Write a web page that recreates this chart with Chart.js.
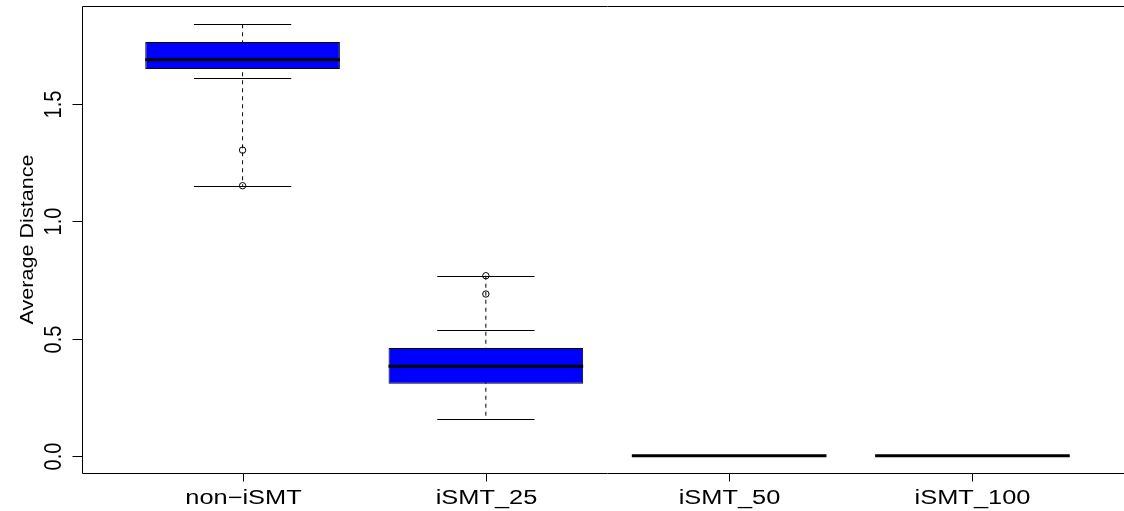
<!DOCTYPE html>
<html>
<head>
<meta charset="utf-8">
<script src="https://cdn.jsdelivr.net/npm/chart.js@4"></script>
<style>
  html, body { margin: 0; padding: 0; background: #fff; overflow: hidden; }
  #wrap { width: 1140px; height: 511px; position: relative; }
</style>
</head>
<body>
<div id="wrap"><canvas id="chartBox" width="1140" height="511"></canvas></div>
<script>
// values
const categories = ['non\u2212iSMT', 'iSMT_25', 'iSMT_50', 'iSMT_100'];
const q1 = [1.650, 0.307, 0, 0];
const q3 = [1.765, 0.460, 0, 0];
const medians = [1.690, 0.382, 0, 0];
const whiskerLow = [1.152, 0.155, 0, 0];
const whiskerHigh = [1.841, 0.768, 0, 0];
const staples = [[1.841, 1.612, 1.152], [0.768, 0.537, 0.155], [], []];
const outliers = [[1.304, 1.152], [0.768, 0.690], [], []];
const yTicks = [0, 0.5, 1.0, 1.5];
const yTickLabels = ['0.0', '0.5', '1.0', '1.5'];
const yTitle = 'Average Distance';

const FONT = '"Liberation Sans", Arial, Helvetica, sans-serif';

// boxes as floating bars
const boxData = categories.map((c, i) => ({ x: i, y: [q1[i], q3[i]] }));
const outlierData = [];
outliers.forEach((vals, i) => vals.forEach(v => outlierData.push({ x: i, y: v })));

// whiskers, staples, medians, frame and text drawn through the scales
const boxplotParts = {
  id: 'boxplotParts',
  beforeDatasetsDraw(chart) {
    const ctx = chart.ctx;
    const xs = chart.scales.x, ys = chart.scales.y;
    const bars = chart.getDatasetMeta(0).data;
    ctx.save();
    ctx.strokeStyle = '#000';
    ctx.lineWidth = 1;
    categories.forEach((c, i) => {
      const x = xs.getPixelForValue(i);
      const half = bars[i].width / 2;
      if (whiskerHigh[i] > whiskerLow[i]) {
        ctx.setLineDash([4, 4]);
        ctx.beginPath();
        ctx.moveTo(x, ys.getPixelForValue(whiskerHigh[i]));
        ctx.lineTo(x, ys.getPixelForValue(whiskerLow[i]));
        ctx.stroke();
      }
      ctx.setLineDash([]);
      staples[i].forEach(v => {
        const y = Math.round(ys.getPixelForValue(v)) + 0.5;
        ctx.beginPath();
        ctx.moveTo(x - half / 2, y);
        ctx.lineTo(x + half / 2, y);
        ctx.stroke();
      });
    });
    ctx.restore();
  },
  afterDatasetsDraw(chart) {
    const ctx = chart.ctx;
    const xs = chart.scales.x, ys = chart.scales.y;
    const bars = chart.getDatasetMeta(0).data;
    const area = chart.chartArea;
    ctx.save();
    // medians
    ctx.strokeStyle = '#000';
    ctx.lineWidth = 3;
    ctx.lineCap = 'butt';
    categories.forEach((c, i) => {
      const x = xs.getPixelForValue(i);
      const half = bars[i].width / 2;
      const y = ys.getPixelForValue(medians[i]);
      ctx.beginPath();
      ctx.moveTo(x - half, y);
      ctx.lineTo(x + half, y);
      ctx.stroke();
    });

    // frame (right side falls outside the window)
    ctx.lineWidth = 1;
    const l = Math.round(area.left) + 0.5, t = Math.round(area.top) + 0.5;
    const r = Math.round(area.right) - 0.5, b = Math.round(area.bottom) + 0.5;
    ctx.beginPath();
    ctx.moveTo(r, t);
    ctx.lineTo(l, t);
    ctx.lineTo(l, b);
    ctx.lineTo(r, b);
    ctx.stroke();

    // x ticks and labels
    ctx.fillStyle = '#000';
    ctx.font = '20px ' + FONT;
    ctx.textAlign = 'center';
    ctx.textBaseline = 'alphabetic';
    categories.forEach((c, i) => {
      const x = Math.round(xs.getPixelForValue(i)) + 0.5;
      ctx.beginPath();
      ctx.moveTo(x, b);
      ctx.lineTo(x, b + 8);
      ctx.stroke();
      ctx.save();
      ctx.translate(x, 504);
      ctx.scale(1.27, 1);
      ctx.fillText(c, 0, 0);
      ctx.restore();
    });

    // y ticks and rotated labels
    yTicks.forEach((v, i) => {
      const y = Math.round(ys.getPixelForValue(v)) + 0.5;
      ctx.beginPath();
      ctx.moveTo(l - 10, y);
      ctx.lineTo(l, y);
      ctx.stroke();
      ctx.save();
      ctx.translate(61, y);
      ctx.rotate(-Math.PI / 2);
      ctx.scale(1, 1.17);
      ctx.fillText(yTickLabels[i], 0, 0);
      ctx.restore();
    });

    // y title
    ctx.save();
    ctx.font = '18px ' + FONT;
    ctx.translate(33, (area.top + area.bottom) / 2);
    ctx.rotate(-Math.PI / 2);
    ctx.scale(1.2, 1);
    ctx.fillText(yTitle, 0, 0);
    ctx.restore();

    ctx.restore();
  }
};

new Chart(document.getElementById('chartBox'), {
  type: 'bar',
  data: {
    datasets: [
      {
        type: 'bar',
        data: boxData,
        backgroundColor: '#0000ff',
        borderColor: '#000',
        borderWidth: 1,
        borderSkipped: false,
        grouped: false,
        barPercentage: 0.8,
        categoryPercentage: 1,
        order: 2
      },
      {
        type: 'scatter',
        data: outlierData,
        pointStyle: 'circle',
        pointRadius: 3.2,
        pointBackgroundColor: 'rgba(0,0,0,0)',
        pointBorderColor: '#000',
        pointBorderWidth: 1,
        order: 1
      }
    ]
  },
  options: {
    responsive: false,
    animation: false,
    layout: { padding: { top: 6, right: 7, left: 0, bottom: 0 } },
    plugins: { legend: { display: false }, tooltip: { enabled: false } },
    scales: {
      x: {
        type: 'linear',
        min: -0.66,
        max: 3.66,
        offset: false,
        grid: { display: false },
        border: { display: false },
        ticks: { display: false },
        // one tick per group so the bar ruler spaces boxes a whole group apart
        afterBuildTicks(s) { s.ticks = categories.map((c, i) => ({ value: i })); },
        afterFit(s) { s.height = 38; }
      },
      y: {
        min: -0.0738,
        max: 1.919,
        grid: { display: false },
        border: { display: false },
        ticks: { display: false },
        afterFit(s) { s.width = 82; }
      }
    }
  },
  plugins: [boxplotParts]
});
</script>
</body>
</html>
